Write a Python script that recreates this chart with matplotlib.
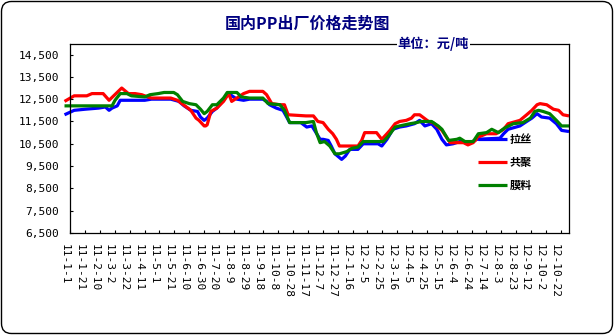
import matplotlib
matplotlib.use("Agg")
import matplotlib.pyplot as plt
from matplotlib.patches import FancyBboxPatch
from matplotlib.transforms import IdentityTransform, blended_transform_factory

plt.rcParams['font.family'] = ['Noto Sans CJK SC', 'DejaVu Sans']

# x positions are days counted from 2011-01-01
date_labels = ["11-1-1", "11-1-21", "11-2-10", "11-3-2", "11-3-22", "11-4-11",
               "11-5-1", "11-5-21", "11-6-10", "11-6-30", "11-7-20", "11-8-9",
               "11-8-29", "11-9-18", "11-10-8", "11-10-28", "11-11-17", "11-12-7",
               "11-12-27", "12-1-16", "12-2-5", "12-2-25", "12-3-16", "12-4-5",
               "12-4-25", "12-5-15", "12-6-4", "12-6-24", "12-7-14", "12-8-3",
               "12-8-23", "12-9-12", "12-10-2", "12-10-22"]
label_step_days = 20

series_names = ["拉丝", "共聚", "膜料"]

days_lasi = [0, 13, 28, 46, 55, 60, 64, 71, 75, 108, 117, 143, 154, 161, 170, 179,
             183, 188, 192, 199, 205, 210, 214, 221, 232, 241, 249, 267, 272, 276,
             285, 294, 299, 303, 318, 326, 333, 344, 348, 355, 359, 364, 373, 378,
             384, 395, 402, 422, 427, 434, 442, 451, 460, 471, 478, 485, 494, 501,
             508, 514, 523, 532, 546, 555, 586, 591, 597, 613, 622, 629, 636, 642,
             653, 662, 669, 679]
price_lasi = [11800, 12000, 12050, 12100, 12150, 12000, 12100, 12200, 12450, 12450,
              12500, 12500, 12400, 12200, 12000, 11950, 11700, 11550, 11650, 11950,
              12100, 12300, 12500, 12750, 12500, 12450, 12500, 12500, 12400, 12250,
              12100, 12000, 11700, 11450, 11450, 11250, 11300, 10700, 10700, 10650,
              10400, 10050, 9800, 9950, 10250, 10250, 10500, 10500, 10400, 10700,
              11150, 11250, 11300, 11400, 11550, 11300, 11400, 11150, 10700, 10450,
              10500, 10600, 10550, 10700, 10750, 10950, 11150, 11300, 11500, 11650,
              11850, 11700, 11650, 11400, 11100, 11050]

days_gongju = [0, 13, 30, 37, 52, 60, 77, 86, 95, 104, 112, 117, 143, 152, 158, 170,
               177, 181, 188, 190, 192, 197, 205, 214, 221, 225, 232, 241, 249, 267,
               272, 279, 290, 296, 301, 325, 335, 341, 348, 355, 361, 366, 370, 380,
               395, 400, 404, 420, 427, 434, 438, 445, 451, 460, 467, 471, 478, 482,
               490, 496, 508, 514, 519, 537, 543, 550, 557, 568, 581, 591, 597, 613,
               622, 629, 636, 640, 649, 658, 665, 671, 679]
price_gongju = [12400, 12650, 12650, 12750, 12750, 12450, 13000, 12750, 12750, 12700,
                12600, 12550, 12550, 12450, 12300, 12000, 11650, 11550, 11300, 11300,
                11350, 11950, 12100, 12400, 12750, 12400, 12550, 12750, 12850, 12850,
                12700, 12300, 12250, 12250, 11800, 11750, 11750, 11500, 11450, 11150,
                10950, 10700, 10400, 10400, 10400, 10650, 11000, 11000, 10700, 10950,
                11100, 11400, 11500, 11550, 11650, 11800, 11800, 11700, 11500, 11450,
                11100, 10800, 10550, 10550, 10450, 10550, 10800, 10950, 10950, 11150,
                11400, 11550, 11800, 12000, 12250, 12300, 12250, 12050, 12000, 11800,
                11750]

days_moliao = [0, 64, 68, 75, 84, 90, 108, 115, 126, 134, 147, 152, 159, 168, 177,
               183, 188, 192, 199, 205, 214, 219, 232, 238, 249, 267, 274, 290, 296,
               303, 325, 335, 339, 344, 350, 357, 364, 370, 380, 387, 395, 402, 429,
               436, 445, 451, 465, 474, 480, 494, 503, 508, 517, 528, 532, 539, 550,
               557, 568, 575, 584, 592, 604, 617, 627, 633, 638, 644, 653, 662, 669,
               679]
price_moliao = [12200, 12200, 12450, 12750, 12750, 12650, 12600, 12700, 12750, 12800,
                12800, 12700, 12400, 12300, 12250, 12050, 11850, 11950, 12250, 12250,
                12550, 12800, 12800, 12600, 12550, 12550, 12300, 12250, 12000, 11450,
                11450, 11500, 11000, 10550, 10600, 10400, 10050, 10050, 10150, 10300,
                10350, 10600, 10600, 10850, 11250, 11300, 11400, 11450, 11500, 11500,
                11300, 11150, 10650, 10700, 10750, 10600, 10600, 10950, 11000, 11150,
                11000, 11200, 11400, 11450, 11650, 11950, 12000, 11950, 11850, 11550,
                11300, 11300]

y_ticks = [6500, 7500, 8500, 9500, 10500, 11500, 12500, 13500, 14500]

colors = ["#0000FF", "#FF0000", "#008000"]
W, H = 614, 335
fig = plt.figure(figsize=(W / 100, H / 100), dpi=100)
fig.patch.set_facecolor("white")

ax_l, ax_r, ax_t, ax_b = 70.3, 569.0, 44.3, 233.0
ax = fig.add_axes([ax_l / W, (H - ax_b) / H, (ax_r - ax_l) / W, (ax_b - ax_t) / H])

series = [(days_lasi, price_lasi), (days_gongju, price_gongju), (days_moliao, price_moliao)]
handles = []
for (d, p), c, name in zip(series, colors, series_names):
    ln, = ax.plot(d, p, color=c, lw=2.3, clip_on=False, solid_joinstyle="round",
                  solid_capstyle="butt", label=name)
    handles.append(ln)

x_first_tick = 7.8
ax.set_xlim(x_first_tick, 679)
ax.set_ylim(6500, 14960)

ax.set_yticks(y_ticks)
ax.set_yticklabels([f"{v:,}" for v in y_ticks], fontfamily="DejaVu Sans Mono", fontsize=8)
ax.tick_params(axis="y", direction="in", length=2.4, width=0.8, pad=7.8, colors="black")

tick_days = [x_first_tick + label_step_days * k for k in range(len(date_labels))]
ax.set_xticks(tick_days)
ax.set_xticklabels([])
ax.tick_params(axis="x", direction="in", length=2.0, width=0.8)

trans = blended_transform_factory(ax.transData, ax.transAxes)
for k, lab in enumerate(date_labels):
    ax.text(k * label_step_days, -0.06, lab, transform=trans, rotation=270,
            ha="center", va="top", fontfamily="DejaVu Sans Mono", fontsize=8,
            clip_on=False)

for s in ax.spines.values():
    s.set_linewidth(0.9)
    s.set_color("black")

ax.legend(handles=handles, loc="upper left", bbox_to_anchor=(0.8175, 0.529),
          frameon=False, handlelength=2.6, handletextpad=0.25, labelspacing=0.88,
          borderpad=0, borderaxespad=0,
          prop={"weight": "bold", "size": 8})

fig.text(307 / W, 1 - 24 / H, "国内PP出厂价格走势图", ha="center", va="center",
         fontsize=11.5, fontweight="bold", color="#000080")
fig.text(469 / W, 1 - 43.5 / H, "单位：元/吨", ha="right", va="center",
         fontsize=9.5, fontweight="bold", color="#000080", zorder=5,
         bbox=dict(facecolor="white", edgecolor="none", pad=0.5))

frame = FancyBboxPatch((1.5, 1.5), W - 3, H - 3,
                       boxstyle="round,pad=0,rounding_size=10",
                       transform=IdentityTransform(), fill=False,
                       edgecolor="black", linewidth=1.0)
fig.add_artist(frame)

fig.savefig("out.png", dpi=100, facecolor="white")
